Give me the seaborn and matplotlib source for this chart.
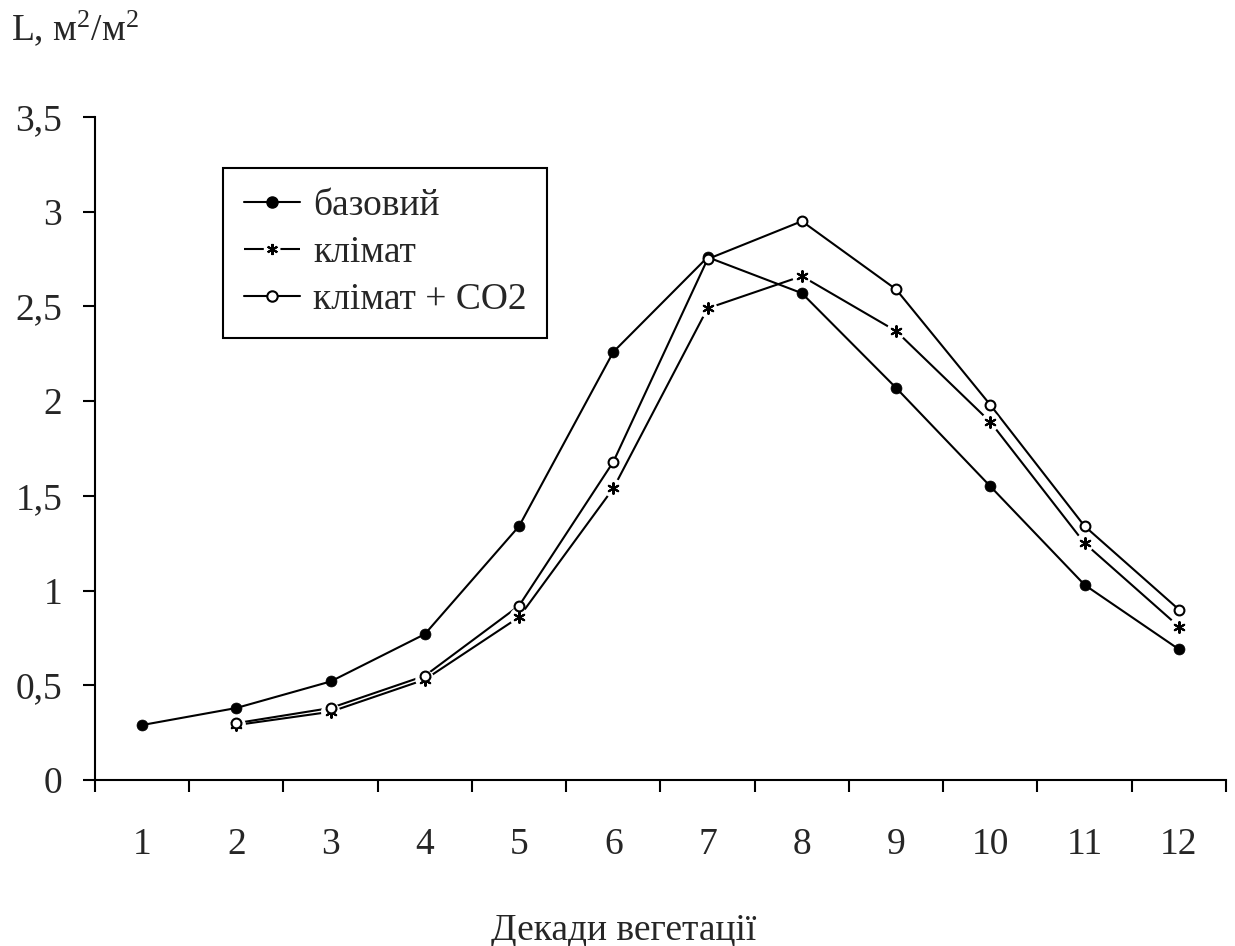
import numpy as np
import pandas as pd
import matplotlib
matplotlib.use("Agg")
import matplotlib.pyplot as plt
from matplotlib.lines import Line2D
from matplotlib.ticker import FixedLocator, FuncFormatter
import seaborn as sns

# ---- data ----
decades = [1, 2, 3, 4, 5, 6, 7, 8, 9, 10, 11, 12]
base = [0.29, 0.38, 0.52, 0.77, 1.34, 2.26, 2.76, 2.57, 2.07, 1.55, 1.03, 0.69]
climate = [None, 0.29, 0.36, 0.53, 0.86, 1.54, 2.49, 2.66, 2.37, 1.89, 1.25, 0.81]
climate_co2 = [None, 0.30, 0.38, 0.55, 0.92, 1.68, 2.75, 2.95, 2.59, 1.98, 1.34, 0.90]
series_names = ["базовий", "клімат", "клімат + CO2"]
y_ticks = [0, 0.5, 1, 1.5, 2, 2.5, 3, 3.5]

rows = []
for name, vals in zip(series_names, [base, climate, climate_co2]):
    for d, v in zip(decades, vals):
        if v is not None:
            rows.append({"decade": d, "L": v, "series": name})
df = pd.DataFrame(rows)

# ---- style ----
sns.set_theme(style="ticks")
plt.rcParams["font.family"] = ["Liberation Serif", "DejaVu Serif"]
plt.rcParams["mathtext.fontset"] = "custom"
plt.rcParams["mathtext.rm"] = "Liberation Serif"
plt.rcParams["mathtext.it"] = "Liberation Serif"
FS = 27
LW = 1.5

fig = plt.figure(figsize=(12.35, 9.46), dpi=100)
ax = fig.add_axes([0.0769, 0.1755, 0.9158, 0.7008])

# lines
sns.lineplot(data=df, x="decade", y="L", hue="series", palette=["black"] * 3,
             estimator=None, sort=False, linewidth=LW, legend=False, ax=ax, zorder=2)

# white halo behind the "клімат" markers (gaps in lines)
clim = df[df.series == "клімат"]
sns.scatterplot(data=clim, x="decade", y="L", marker="o", s=190, color="white",
                edgecolor="none", linewidth=0, legend=False, ax=ax, zorder=3)

# markers
b = df[df.series == "базовий"]
sns.scatterplot(data=b, x="decade", y="L", marker="o", s=62, color="black",
                edgecolor="black", linewidth=0.5, legend=False, ax=ax, zorder=4)
sns.scatterplot(data=clim, x="decade", y="L", marker=(6, 2, 0), s=60, color="black",
                edgecolor="black", linewidth=1.5, legend=False, ax=ax, zorder=4)
c2 = df[df.series == "клімат + CO2"]
sns.scatterplot(data=c2, x="decade", y="L", marker="o", s=50, facecolor="white",
                edgecolor="black", linewidth=1.5, legend=False, ax=ax, zorder=5)

# axes
ax.set_xlim(0.5, 12.5)
ax.set_ylim(0, 3.5)
ax.set_xticks(decades)
ax.set_xticklabels([str(d) for d in decades], fontsize=FS)
ax.xaxis.set_minor_locator(FixedLocator(np.arange(0.5, 13.0, 1.0)))
ax.tick_params(axis="x", which="major", length=0, pad=34)
ax.tick_params(axis="x", which="minor", length=8.5, width=1.5, direction="out", color="black")
ax.set_yticks(y_ticks)
ax.yaxis.set_major_formatter(FuncFormatter(lambda v, p: ("%g" % v).replace(".", ",")))
ax.tick_params(axis="y", which="major", length=8.5, width=1.5, direction="out",
               labelsize=FS, pad=15, color="black")
for s in ["top", "right"]:
    ax.spines[s].set_visible(False)
for s in ["left", "bottom"]:
    ax.spines[s].set_linewidth(1.5)
    ax.spines[s].set_color("black")
ax.set_xlabel("")
ax.set_ylabel("")
fig.text(0.5053, 0.0065, "Декади вегетації", fontsize=FS, ha="center", va="baseline")
fig.text(0.009, 0.9577, "L, м$^{2}$/м$^{2}$", fontsize=FS, ha="left", va="baseline")

# legend
handles = [
    Line2D([], [], color="black", lw=LW, marker="o", markersize=8,
           markerfacecolor="black", markeredgecolor="black"),
    Line2D([], [], color="black", lw=LW, linestyle=(0, (9.5, 8.0)), marker=(6, 2, 0),
           markersize=8, markeredgewidth=1.5, markeredgecolor="black"),
    Line2D([], [], color="black", lw=LW, marker="o", markersize=7.5,
           markerfacecolor="white", markeredgecolor="black", markeredgewidth=1.5),
]
leg = ax.legend(handles, series_names, loc="upper left", bbox_to_anchor=(0.1132, 0.923),
                borderaxespad=0, fontsize=FS, frameon=True, fancybox=False,
                handlelength=1.5, handletextpad=0.35, labelspacing=0.33,
                borderpad=0.55)
leg.get_frame().set_edgecolor("black")
leg.get_frame().set_linewidth(1.5)
leg.get_frame().set_alpha(1)

fig.savefig("out.png", dpi=100, facecolor="white")
